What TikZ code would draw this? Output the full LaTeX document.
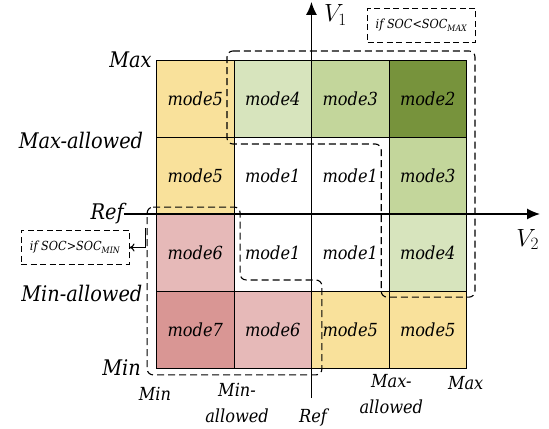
\documentclass[tikz,border=0pt]{standalone}
\usepackage{fontspec}
\setmainfont{DejaVu Serif Condensed}
\usetikzlibrary{arrows.meta}

\definecolor{modeyellow}{HTML}{F9E19B}
\definecolor{modelgreen}{HTML}{D7E4BD}
\definecolor{modemgreen}{HTML}{C3D69B}
\definecolor{modedgreen}{HTML}{77933C}
\definecolor{modepink}{HTML}{E6B9B8}
\definecolor{modered}{HTML}{D99694}

\tikzset{
	cell/.style={draw=black, line width=0.8pt, minimum width=77.5pt, minimum height=77pt,
		inner sep=0pt, font=\fontsize{18}{20}\selectfont\itshape},
	sidelabel/.style={inner sep=0pt, anchor=east, font=\fontsize{21.5}{24}\selectfont\itshape},
	ticklabel/.style={inner sep=0pt, align=center, font=\fontsize{18}{26}\selectfont\itshape},
	axis/.style={line width=1.6pt, -{Latex[length=13pt,width=11pt]}},
	region/.style={line width=1.1pt, dash pattern=on 7pt off 4pt, rounded corners=6pt},
	socbox/.style={draw, line width=1pt, dash pattern=on 6pt off 3.5pt, minimum width=108pt,
		minimum height=34pt, inner sep=0pt, font=\fontsize{12.5}{14}\selectfont\itshape}
}

\begin{document}
\begin{tikzpicture}[x=77.5pt, y=77pt]
	\useasboundingbox (-4.019,-2.792) rectangle (3.065,2.779);

	% operating modes
	\foreach \col/\row/\txt/\clr [count=\i] in {
		-1.5/1.5/mode5/modeyellow, -0.5/1.5/mode4/modelgreen, 0.5/1.5/mode3/modemgreen, 1.5/1.5/mode2/modedgreen,
		-1.5/0.5/mode5/modeyellow, -0.5/0.5/mode1/white, 0.5/0.5/mode1/white, 1.5/0.5/mode3/modemgreen,
		-1.5/-0.5/mode6/modepink, -0.5/-0.5/mode1/white, 0.5/-0.5/mode1/white, 1.5/-0.5/mode4/modelgreen,
		-1.5/-1.5/mode7/modered, -0.5/-1.5/mode6/modepink, 0.5/-1.5/mode5/modeyellow, 1.5/-1.5/mode5/modeyellow}
		\node[cell, fill=\clr] (cell\i) at (\col,\row) {\txt};

	% levels of V1
	\node[sidelabel] (lmax) at (-2.06, 2.0) {Max};
	\node[sidelabel] (lmaxal) at (-2.17, 0.95) {Max-allowed};
	\node[sidelabel] (lref) at (-2.42, 0) {Ref};
	\node[sidelabel] (lminal) at (-2.18, -1.03) {Min-allowed};
	\node[sidelabel] (lmin) at (-2.2, -1.99) {Min};

	% levels of V2
	\node[ticklabel] (bmin) at (-2.02, -2.34) {Min};
	\node[ticklabel] (bminal) at (-0.96, -2.46) {Min-\\allowed};
	\node[ticklabel] (bref) at (0.02, -2.64) {Ref};
	\node[ticklabel] (bmaxal) at (1.03, -2.34) {Max-\\allowed};
	\node[ticklabel] (bmax) at (1.99, -2.19) {Max};

	% axes
	\coordinate (v1start) at (0, -2.39);
	\coordinate (v1end) at (0, 2.755);
	\coordinate (v2end) at (2.95, 0);
	\draw[axis] (v1start) -- (v1end);
	\draw[axis] (lref.east) -- (v2end);
	\node[font=\fontsize{27}{29}\selectfont] (v1) at (0.31, 2.58) {$V_1$};
	\node[font=\fontsize{27}{29}\selectfont] (v2) at (2.79, -0.33) {$V_2$};

	% SOC regions
	\draw[region] (-1.09,2.117) -- (2.11,2.117) -- (2.11,-1.08) -- (0.9,-1.08)
		-- (0.9,0.909) -- (-1.09,0.909) -- cycle;
	\draw[region] (-2.12,0.09) -- (-0.92,0.09) -- (-0.92,-0.857) -- (0.135,-0.857)
		-- (0.135,-2.09) -- (-2.12,-2.09) -- cycle;

	\node[socbox] (socmax) at (1.42, 2.45) {if SOC<SOC\textsubscript{MAX}};
	\node[socbox] (socmin) at (-3.05, -0.435) {if SOC>SOC\textsubscript{MIN}};

	\coordinate (minlink) at (-2.145, -0.18);
	\draw[line width=1.1pt, -{To[length=5pt,width=8pt]}] (minlink) |- (socmin.east);
\end{tikzpicture}
\end{document}
